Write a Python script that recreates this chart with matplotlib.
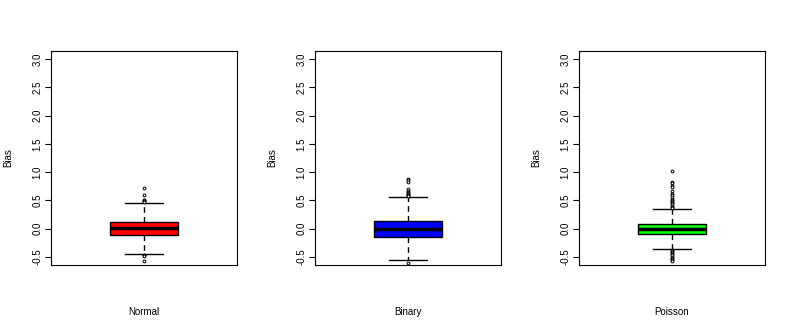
import matplotlib
matplotlib.use("Agg")
import matplotlib.pyplot as plt

plt.rcParams['font.family'] = ['Liberation Sans', 'DejaVu Sans']

# box summary values
groups = ["Normal", "Binary", "Poisson"]
colors = ["#ff0000", "#0000ff", "#00ff00"]
q1 = [-0.11, -0.14, -0.09]
medians = [0.02, 0.00, 0.00]
q3 = [0.12, 0.14, 0.09]
whislo = [-0.44, -0.56, -0.35]
whishi = [0.46, 0.56, 0.35]
outliers = [
    [0.72, 0.59, 0.51, 0.50, 0.49, 0.48, -0.46, -0.47, -0.48, -0.57],
    [0.88, 0.86, 0.82, 0.70, 0.67, 0.65, 0.63, 0.62, 0.60, 0.59, 0.58, -0.61],
    [1.02, 0.83, 0.81, 0.76, 0.73, 0.67, 0.62, 0.60, 0.56, 0.53, 0.51, 0.49,
     0.47, 0.45, 0.43, 0.41, 0.39, 0.37, -0.37, -0.39, -0.41, -0.43, -0.45,
     -0.47, -0.49, -0.51, -0.53, -0.55, -0.57],
]
yticks = [-0.5, 0.0, 0.5, 1.0, 1.5, 2.0, 2.5, 3.0]

fig = plt.figure(figsize=(7.93, 3.30), dpi=100)
lefts = [51, 315, 579]

for k in range(3):
    ax = fig.add_axes([lefts[k] / 793, (330 - 265) / 330, 186 / 793, 214 / 330])
    stats = [{
        "med": medians[k], "q1": q1[k], "q3": q3[k],
        "whislo": whislo[k], "whishi": whishi[k], "fliers": outliers[k],
    }]
    ax.bxp(stats, positions=[1], widths=0.4, capwidths=0.22, patch_artist=True,
           boxprops=dict(facecolor=colors[k], edgecolor="black", linewidth=1),
           medianprops=dict(color="black", linewidth=2.5),
           whiskerprops=dict(color="black", linestyle=(0, (4, 3)), linewidth=1),
           capprops=dict(color="black", linewidth=1),
           flierprops=dict(marker="o", markersize=2.0, markerfacecolor="white",
                           markeredgecolor="black", markeredgewidth=0.7))
    ax.set_xlim(0.46, 1.54)
    ax.set_ylim(-0.64, 3.14)
    ax.set_xticks([])
    ax.set_yticks(yticks)
    ax.set_yticklabels([f"{v:.1f}" for v in yticks], rotation=90, va="center", fontsize=7)
    ax.tick_params(axis="y", length=4, width=0.8, pad=2)
    ax.set_ylabel("Bias", fontsize=7, labelpad=14)
    ax.set_xlabel(groups[k], fontsize=7, labelpad=30)
    for s in ax.spines.values():
        s.set_linewidth(0.8)

fig.savefig("out.png", dpi=100)
